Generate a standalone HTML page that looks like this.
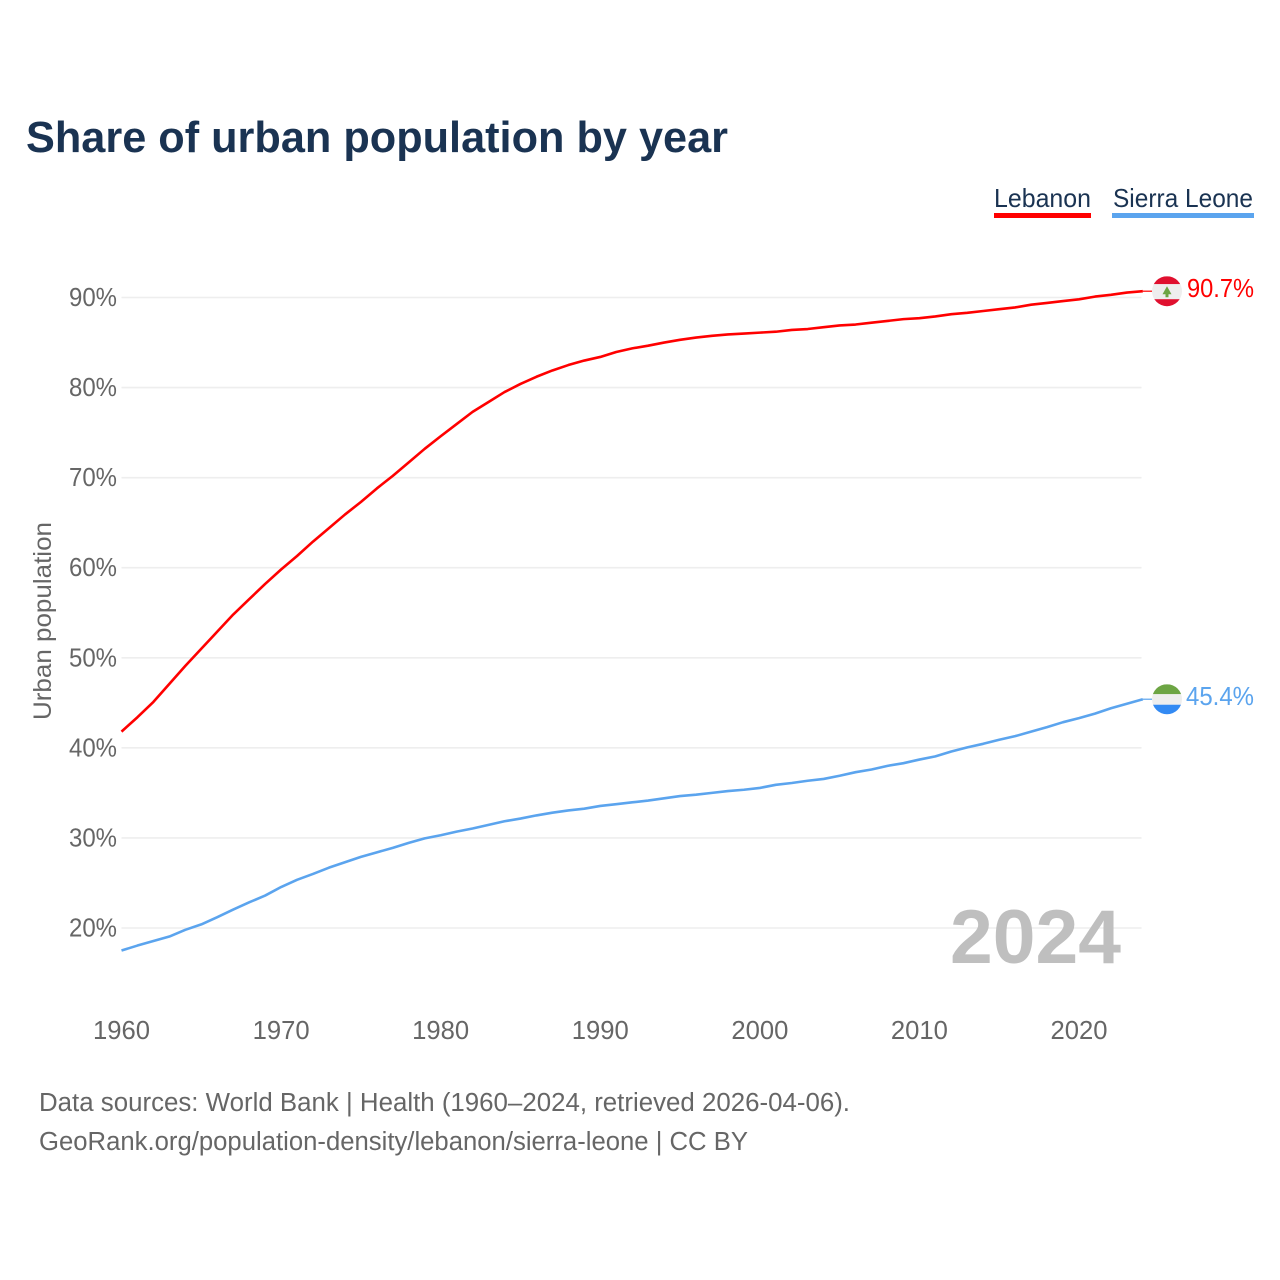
<!DOCTYPE html>
<html lang="en">
<head>
<meta charset="utf-8">
<title>Share of urban population by year</title>
<style>
html,body{margin:0;padding:0;background:#fff;width:1280px;height:1280px;overflow:hidden}
svg{display:block}
text{font-family:"Liberation Sans",Arial,sans-serif}
</style>
</head>
<body>
<svg id="chart" xmlns="http://www.w3.org/2000/svg" width="1280" height="1280" viewBox="0 0 1280 1280">
  <rect x="0" y="0" width="1280" height="1280" fill="#ffffff"/>
  <text x="26" y="152" font-size="44" font-weight="700" fill="#1a3352" textLength="702" lengthAdjust="spacingAndGlyphs">Share of urban population by year</text>

  <g>
    <g>
      <text x="994" y="207" font-size="26" fill="#1a3352" textLength="97" lengthAdjust="spacingAndGlyphs">Lebanon</text>
      <rect x="994" y="213" width="97" height="5" fill="#ff0000"/>
    </g>
    <g>
      <text x="1113" y="207" font-size="26" fill="#1a3352" textLength="140" lengthAdjust="spacingAndGlyphs">Sierra Leone</text>
      <rect x="1112" y="213" width="142" height="5" fill="#5ba4ee"/>
    </g>
  </g>

  <g id="grid"></g>
  <g id="ytick-labels"></g>
  <g id="xtick-labels"></g>

  <text transform="translate(51,720) rotate(-90)" x="0" y="0" font-size="25" fill="#666666" textLength="198" lengthAdjust="spacingAndGlyphs">Urban population</text>

  <text x="950" y="963" font-size="76" font-weight="700" fill="#bfbfbf" textLength="171" lengthAdjust="spacingAndGlyphs">2024</text>

  <g id="series"></g>
  <g id="markers"></g>

  <text x="39" y="1111" font-size="25.5" fill="#666666" textLength="811" lengthAdjust="spacingAndGlyphs">Data sources: World Bank | Health (1960–2024, retrieved 2026-04-06).</text>
  <text x="39" y="1150" font-size="25.5" fill="#666666" textLength="709" lengthAdjust="spacingAndGlyphs">GeoRank.org/population-density/lebanon/sierra-leone | CC BY</text>
</svg>

<script>
const startYear = 1960;
const lebanonValues = [
  41.8,43.4,45.1,47.1,49.1,51.0,52.9,54.8,56.5,58.2,
  59.8,61.3,62.9,64.4,65.9,67.3,68.8,70.2,71.7,73.2,
  74.6,75.95,77.3,78.4,79.5,80.4,81.2,81.9,82.5,83.0,
  83.4,83.95,84.35,84.65,85.0,85.3,85.55,85.75,85.9,86.0,
  86.1,86.2,86.4,86.5,86.7,86.9,87.0,87.2,87.4,87.6,
  87.7,87.9,88.15,88.3,88.5,88.7,88.9,89.2,89.4,89.6,
  89.8,90.1,90.3,90.55,90.7
];
const sierraLeoneValues = [
  17.5,18.05,18.55,19.05,19.8,20.4,21.2,22.05,22.85,23.6,
  24.55,25.35,26.0,26.7,27.3,27.9,28.4,28.9,29.45,29.95,
  30.3,30.7,31.05,31.45,31.85,32.15,32.5,32.8,33.05,33.25,
  33.55,33.75,33.95,34.15,34.4,34.65,34.8,35.0,35.2,35.35,
  35.55,35.9,36.1,36.35,36.55,36.9,37.3,37.6,38.0,38.3,
  38.7,39.05,39.6,40.05,40.45,40.9,41.3,41.8,42.3,42.85,
  43.3,43.8,44.4,44.9,45.4
];
const yTickValues = [20,30,40,50,60,70,80,90];
const yTickLabels = ["20%","30%","40%","50%","60%","70%","80%","90%"];
const xTickValues = [1960,1970,1980,1990,2000,2010,2020];
const xTickLabels = ["1960","1970","1980","1990","2000","2010","2020"];

const NS = "http://www.w3.org/2000/svg";
const plotLeft = 121.5, plotRight = 1141.5;
const flagX = 1167, flagR = 15;

function xScale(year){ return plotLeft + (year - 1960) * (1079 - 121.5) / 60; }
function yScale(v){ return 928 - (v - 20) * (928 - 297.5) / 70; }

function make(tag, attrs, parent){
  const el = document.createElementNS(NS, tag);
  for (const k in attrs) el.setAttribute(k, attrs[k]);
  parent.appendChild(el);
  return el;
}

const grid = document.getElementById("grid");
const yLabels = document.getElementById("ytick-labels");
const xLabels = document.getElementById("xtick-labels");
const seriesGroup = document.getElementById("series");
const markers = document.getElementById("markers");

yTickValues.forEach((v, i) => {
  const line = make("line", {x1: plotLeft, x2: plotRight, y1: yScale(v), y2: yScale(v), stroke: "#eeeeee", "stroke-width": 1.6}, grid);
  
  
  const t = make("text", {x: 69, y: yScale(v) + 8.5, "font-size": 25.5, fill: "#666666", textLength: 48, lengthAdjust: "spacingAndGlyphs"}, yLabels);
  t.textContent = yTickLabels[i];
  
  
});

xTickValues.forEach((yr, i) => {
  const t = make("text", {x: xScale(yr), y: 1039, "font-size": 25.5, fill: "#666666", "text-anchor": "middle", textLength: 57, lengthAdjust: "spacingAndGlyphs"}, xLabels);
  t.textContent = xTickLabels[i];
  
  
});

function pathFor(values){
  return values.map((v, i) => (i ? "L" : "M") + xScale(startYear + i).toFixed(2) + " " + yScale(v).toFixed(2)).join(" ");
}

function drawSeries(values, color){
  const p = make("path", {d: pathFor(values), fill: "none", stroke: color, "stroke-width": 2.6, "stroke-linejoin": "round"}, seriesGroup);
  const lastY = yScale(values[values.length - 1]);
  const tail = make("line", {x1: xScale(startYear + values.length - 1), x2: flagX - flagR, y1: lastY, y2: lastY, stroke: color, "stroke-width": 1.2}, seriesGroup);
  return {p, tail, lastY};
}

const lebanon = drawSeries(lebanonValues, "#ff0000");





const sierra = drawSeries(sierraLeoneValues, "#5ba4ee");





function bandFlag(cy, id, bands){
  const g = make("g", {}, markers);
  const clip = make("clipPath", {id: id}, g);
  make("circle", {cx: flagX, cy: cy, r: flagR}, clip);
  const inner = make("g", {"clip-path": "url(#" + id + ")"}, g);
  bands.forEach(b => {
    make("rect", {x: flagX - flagR, y: cy - flagR + b[0], width: 2 * flagR, height: b[1], fill: b[2]}, inner);
  });
  return g;
}

const lebY = lebanon.lastY;
const lebFlag = bandFlag(lebY, "clip-leb", [[0,8,"#e0102f"],[8,15,"#eeeeee"],[23,8,"#e0102f"]]);


const tree = make("path", {d: "M" + flagX + " " + (lebY - 5) + " l4.5 8 h-3 v3 h-3 v-3 h-3 z", fill: "#6da544"}, lebFlag);



const sieY = sierra.lastY;
const sieFlag = bandFlag(sieY, "clip-sie", [[0,10,"#6da544"],[10,10.5,"#eeeeee"],[20.5,10,"#338af3"]]);



const lebLabel = make("text", {x: 1187, y: lebY + 6, "font-size": 25.5, fill: "#ff0000", textLength: 67, lengthAdjust: "spacingAndGlyphs"}, markers);
lebLabel.textContent = lebanonValues[lebanonValues.length - 1].toFixed(1) + "%";



const sieLabel = make("text", {x: 1186, y: sieY + 6, "font-size": 25.5, fill: "#5ba4ee", textLength: 68, lengthAdjust: "spacingAndGlyphs"}, markers);
sieLabel.textContent = sierraLeoneValues[sierraLeoneValues.length - 1].toFixed(1) + "%";


</script>
</body>
</html>
